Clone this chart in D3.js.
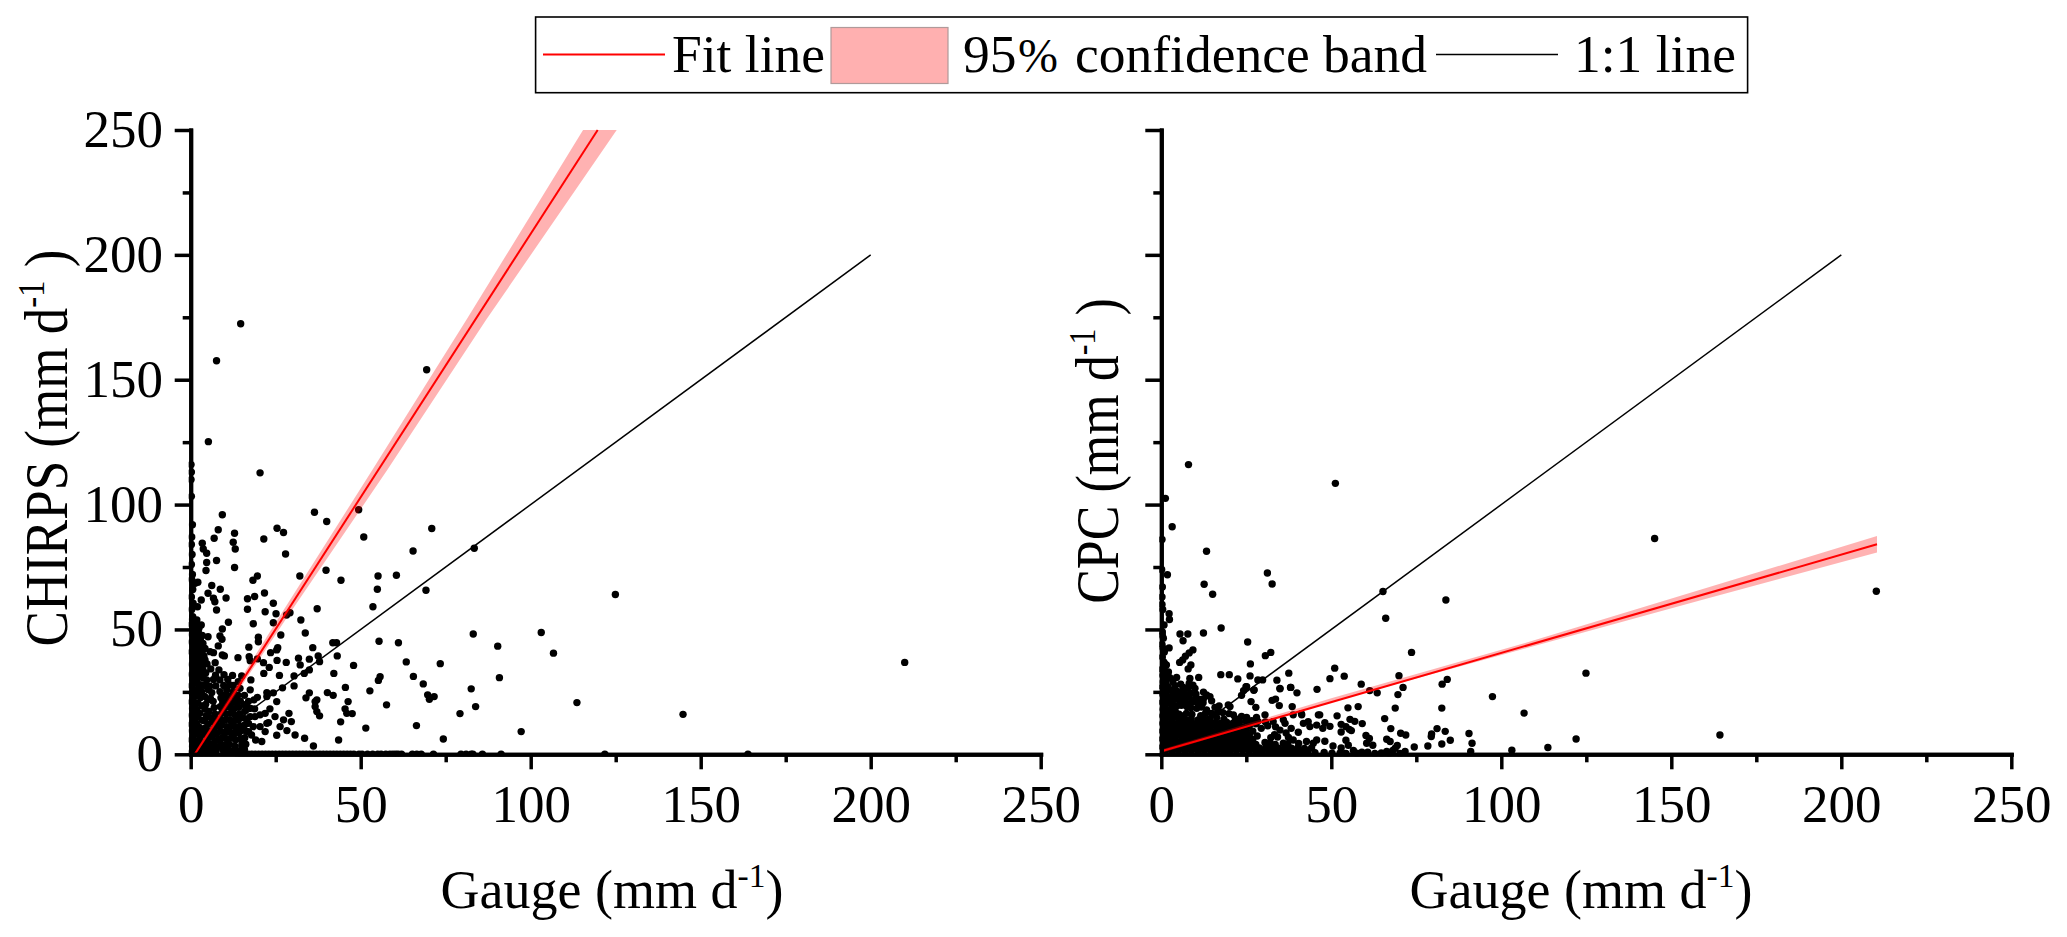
<!DOCTYPE html>
<html><head><meta charset="utf-8">
<script src="https://cdn.jsdelivr.net/npm/d3@7/dist/d3.min.js"></script>
<style>html,body{margin:0;background:#fff}svg{display:block}text{font-family:"Liberation Serif",serif;fill:#000}</style>
</head><body><svg id="c" width="2067" height="937"></svg>
<script>
const xTicks=[0,50,100,150,200,250], minorTicks=[25,75,125,175,225];
const oneToOne=[[0,0],[200,200]];
const chirpsFit=[[1.2,0],[119.7,250]];
const chirpsBandUpper=[[0.8,0],[26.5,56],[53.5,114],[81.1,174],[115.4,250]];
const chirpsBandLower=[[1.6,0],[28.9,56],[57.9,114],[86.9,174],[125.3,250]];
const cpcFit=[[0.5,1.4],[210.5,84.1]];
const cpcBandUpper=[[0.5,2.1],[50,22.4],[107,44.6],[160,66.5],[210.5,87.4]];
const cpcBandLower=[[0.5,0.7],[50,21],[107,42.4],[160,62.2],[210.5,80.8]];

const chirpsSparse=[[14.7,172.4],[7.6,157.6],[5.2,125.2],[69.4,154],[20.4,112.7],[9.3,95.9],[0.5,91.9],[8.1,89.9],[6.9,86.5],[12.9,88.5],[12.5,84.9],[13.1,82.2],[3.4,84.5],[3.7,82.2],[4.7,80.5],[4.7,76.8],[7.6,77.6],[4.5,73.6],[12.9,74.8],[25.4,90.5],[27.3,88.8],[21.5,86.2],[27.9,80.2],[36.4,96.9],[40,93.2],[49.4,97.9],[50.9,87],[65.4,81.4],[70.9,90.4],[83.4,82.5],[39.8,73.7],[44.2,69.7],[32.1,71.4],[55.1,71.4],[60.5,71.7],[54.9,66.1],[69.2,65.7],[53.6,59.1],[37.2,58.3],[19.6,71.4],[18.3,69.7],[21.7,64.6],[18.8,63.2],[16.7,62.3],[16.7,58.1],[21.9,57.1],[24.3,60.5],[25.1,56.3],[28.2,55.8],[29.2,56.7],[32.4,53.8],[18.4,52.3],[24.3,52.7],[33.7,48.6],[26.5,47.8],[19.9,46.9],[19.9,45.1],[17.1,42.9],[25.6,42.7],[25.3,41.8],[23.5,40.7],[35.9,42.7],[41.8,44.7],[42.9,44.7],[43.1,39.4],[55.4,45.3],[61.1,44.7],[83.1,48.2],[90.3,43.3],[37.5,39.4],[37.9,37.1],[34.9,38.1],[31.7,38.5],[32.2,35.8],[28.1,36.8],[25.4,37.6],[17.2,39.1],[17.5,37.5],[19.6,38.2],[21.4,36.7],[23.1,34.8],[21.5,32.4],[26.1,31.6],[30.4,31.4],[33.4,32.4],[34.9,33.8],[42.1,32.4],[47.9,35.6],[63.4,37],[73.4,36.3],[65.5,31.2],[55.7,31.1],[55.2,29.6],[68.4,28.2],[90.8,30.7],[82.5,26.2],[45.5,26.8],[52.7,25.4],[30.4,27.4],[27,26.6],[24.3,24.6],[22.4,24.7],[22.4,23.1],[19.6,22.8],[18.6,21.8],[17.5,25.8],[34.9,24.6],[33.9,22.6],[40.2,24.7],[41.9,23.6],[37.1,21.8],[36.6,21.1],[36.6,19.1],[37.1,17.1],[37.9,15.4],[46.3,21.1],[45.4,18.2],[45.9,16.4],[47.5,16.3],[44.1,13],[51.5,10.5],[43.5,5.7],[36.1,3.3],[33.5,6.4],[30.7,7.7],[28.3,9.5],[29.6,13.1],[28.9,16.4],[27.3,13.8],[26.3,11.1],[25.3,7.6],[24.8,15.1],[23.3,18.2],[22.9,12.7],[25.3,21.1],[57.6,19.8],[69.7,23.8],[71.6,23.1],[70.2,22],[66.4,11.5],[74.3,6.1],[79.2,16.3],[83.8,19.1],[97.2,9.1],[17.5,15.1],[18.9,15.1],[20.4,15.8],[21.9,16.4],[17,9.1],[17.9,7.7],[19.1,5.7],[20.9,5.1],[21.9,9.1],[20.4,11.1],[18.4,11.1],[17,12.4],[22.4,12.4],[103.1,48.8],[106.7,40.5],[113.6,20.7],[124.9,64],[144.8,16],[210,36.8]];
const chirpsDense=[[2.1,68.9],[6.2,67.6],[1.3,68.5],[8.7,66.1],[5.1,64.5],[6.7,62.5],[7.1,61.1],[10.4,62.6],[3.1,61.8],[2,59.1],[7.6,57.8],[0.6,55.1],[1.8,53.8],[3.1,51.8],[11.1,52.9],[9.3,50.2],[8.6,47.4],[9.2,46.1],[5.1,47.1],[2.3,48.5],[2.9,46.5],[1.3,45.8],[8.1,43.4],[5.7,41.1],[6.7,40.7],[9.3,39.8],[9.9,39.4],[13.9,38.7],[7.2,36.7],[4.2,37.8],[2.7,39.1],[3.7,36.4],[5.9,34.2],[8.3,33.8],[1.8,35.1],[12.3,31.6],[15,31.4],[14,29.1],[17.7,29.8],[14.5,26.4],[6.7,30],[4.7,29.8],[8.6,29.8],[2.3,31.1],[3.2,27.8],[12.5,25.1],[10.6,25.8],[8.6,25.1],[6.2,24.7],[3.2,25.1],[1.3,25.8],
[0.1,116],[0.2,113],[0.1,110],[0.2,103.3],[0.3,87],[0.2,84],[0.4,80],[0.2,76],[0.5,72],[0.3,70],[0.6,66],[0.2,63],[0.7,60.5],[0.3,58],[0.5,54],[0.2,52],[0.9,50],[0.4,48],[1.2,47],[0.3,45],[0.8,43.5],[1.4,42],[0.2,41],[0.6,39],[1.1,37.6],[0.4,36],[0.9,34],[1.5,33],[0.3,32],[0.7,30],[1.2,28.7],[0.2,27.5],[0.9,26],[0.4,24.5],[1.4,23.4],[0.7,22],[0.2,21],[1.1,19.6],[0.5,18.3],[0.9,17],[0.3,15.6],[1.3,14.4],[0.6,13],[0.2,12],[1,10.6],[0.4,9.4],[1.4,8.2],[0.7,7],[0.2,5.8],[1.1,4.5],[0.5,3.2],[0.9,1.9],[0.3,0.8],
[1.9,44],[2.6,42.6],[1.7,40.8],[3.4,41.4],[2.2,37],[1.6,31.7],[2.8,33.4],[1.9,29],[2.5,26.3],[1.7,24],[2.9,22.7],[2.1,20.6],[3.3,19.4],[1.8,18],[2.7,16.4],[2,14.8],[3.4,13.6],[1.7,12.2],[2.6,10.8],[3.2,9.6],[1.9,8.4],[2.8,6.9],[2.1,5.4],[3.3,4.2],[1.7,2.9],[2.6,1.7],[3.1,0.6],
[4.1,23.2],[5,21.8],[4.4,20],[5.8,22.4],[6.6,21.2],[4.2,18.1],[5.4,17.2],[6.9,18.7],[4.6,15.5],[5.9,14.7],[7.2,16.1],[4.1,13.4],[5.1,12.1],[6.5,12.9],[7.7,13.8],[4.4,10.6],[5.6,9.4],[6.9,10.3],[8,11.3],[4.2,8],[5.3,6.8],[6.4,7.6],[7.6,8.4],[4.6,5.2],[5.8,4.1],[7.1,5.3],[8.2,6.1],[4.1,2.7],[5.2,1.6],[6.5,2.4],[7.7,3],[4.7,0.7],[6.1,0.5],[7.4,0.9],
[8.9,22.6],[9.8,23.6],[11.2,23.4],[12.9,22.7],[13.9,23.7],[9.4,20.9],[10.7,21.4],[12,20.6],[13.4,20.7],[14.6,21.3],[8.7,19.1],[10,18.7],[11.4,18.9],[12.8,18.3],[14.1,18.8],[9.1,16.6],[10.4,16.2],[11.8,16.5],[13.1,15.7],[14.4,16.2],[8.8,14.1],[10.1,13.7],[11.5,13.9],[12.7,13.2],[14,13.6],[15.3,14.7],[9.2,11.8],[10.6,11.1],[11.9,11.5],[13.3,10.8],[14.6,11.3],[8.9,9.2],[10.2,8.7],[11.6,9],[12.9,8.3],[14.2,8.7],[15.2,9.6],[9.3,6.6],[10.5,6.2],[11.9,6.5],[13.2,5.8],[14.7,6.2],[8.9,4],[10.1,3.6],[11.4,3.9],[13,3.2],[15,3.4],[9.4,1.8],[10.8,1.4],[12.2,1.2],[14,1.3],[15.1,4.6]];
const chirpsFill=[[1.6,52],[2.4,50.4],[1.5,49],[3.4,47.6],[2.1,45],[3.6,44.4],[1.4,43.9],[2.8,41.9],[4.2,42.4],[3.9,39.4],[1.5,38.6],[3,37.9],[4.8,36.2],[2.4,35.5],[3.6,33.9],[1.7,33.4],[2.9,31.7],[4.4,32.6],[3.7,30.6],[1.6,30.3],[4.2,27.6],[5.6,27.3],[2.4,27.7],[5.1,25.9],[7.4,27.4],[9.7,27.6],[11.5,27.8],[7.3,31.7],[9.8,31.9],[10.9,30],[15.8,23.6],[16.4,19.7],[15.9,17.3],[16.3,14.2],[15.9,11.8],[16.4,9.2],[15.9,6.6],[16.2,4],[15.8,1.9],[17,21.2],[17.6,18.4],[18.8,18.2],[15.7,19.9],[12.5,27.6]];
const chirpsZero=[14,15,16,17,18,19,20,21,22,23,24,25,26,27,28,29,30,31,32,33,34,35,36,37,38,39,40,41,42,43,44,45,46,47,48,49.5,50.4,52,53.5,55,56,57.4,58.6,59.5,60.3,61,62,65.2,66.5,67.8,71.4,79.5,81,82.5,83,85.8,91.3,121.8,163.9];

const cpcSparse=[[8,116],[51.2,108.5],[1.2,102.5],[3.2,91.1],[13.3,81.3],[31.2,72.6],[32.6,68.2],[1.8,71.9],[12.6,68.1],[15.1,64.1],[65.2,65.2],[66,54.5],[83.7,61.8],[145.1,86.4],[210.3,65.3],[2.3,56.3],[2.4,54],[0.8,51.8],[17.6,50.6],[5.5,48.2],[7.8,48.2],[12.4,48.6],[6.4,45.5],[25.4,45],[2.3,42.6],[9.3,41.8],[8.2,40.6],[7.1,39.3],[6.3,37.8],[5.4,36.8],[32.2,40.8],[30.6,39.5],[26.2,36.2],[8.7,35.8],[7.9,34.2],[1.5,35.8],[1,33.5],[73.6,40.8],[17.5,31.9],[20,31.9],[22.5,30.2],[26.1,31.4],[28.4,29.8],[29.8,29.8],[37.5,32.5],[34,29.7],[51,34.5],[53.8,31.3],[49.6,30.3],[69.9,31.5],[84.1,30],[82.6,28.1],[124.9,32.5],[58.8,28.1],[45.8,26],[38.1,26.8],[39.9,24.6],[34.9,26.2],[24.9,27.1],[24.2,25.5],[23.6,23.6],[27.2,25.6],[26.4,21.1],[27.8,18.8],[33.6,22.1],[32.6,21.6],[34.7,19.5],[61.3,25.5],[63.5,24.6],[71.1,26.8],[69.6,23.9],[97.4,23.1],[106.7,16.5],[82.5,18.5],[68.8,18.5],[57.9,19.1],[54.9,18.6],[65.7,14.3],[51.7,15.4],[46.6,15.8],[41.2,16.3],[55.5,14],[56.9,13.2],[59.1,12.3],[52.9,12],[48.1,12.7],[49.6,11.2],[47.5,10.4],[54.3,11.1],[55.3,10],[55.9,9.5],[52.9,8.9],[67.5,10.3],[81.1,10.3],[83.5,9.2],[79.5,8.1],[79.4,7.1],[90.5,8.3],[91.4,4.4],[85,5.6],[82.5,4.1],[78.4,3.3],[74.4,2.9],[70.4,8.4],[71.9,7.7],[60.2,7.5],[61.2,6.3],[60.4,4.4],[62.2,3.6],[66.3,6],[67.3,5.1],[69.4,3.5],[68.8,2.4],[48.1,5.2],[54.3,5.6],[50.5,3.3],[55,3.6],[52.9,2.5],[56.5,1.5],[59,0.8],[60.7,0.8],[66.3,1.1],[71.7,1.1],[68.1,1.5],[91,1.1],[103.1,1.6],[113.7,2.7],[122,6.1],[47.9,0.7],[164.3,7.7]];
const cpcDense=[[0.2,86],[0.1,74],[0.3,67],[0.2,63],[0.2,60],[0.4,58],[0.3,49],[0.6,46.5],[0.2,44],[0.9,41],[0.3,39],[0.7,37],[1.2,31],[0.2,34],[0.5,29],[1.3,28.5],[0.3,27],[1,25.6],[2.5,30.7],[4.5,30.8],[11,30.8],[8.4,30.4],[8.2,28.4],[4,27.5],[7.9,26.4],[9.9,26.4],[4.3,23.8],[7,22.4],[1.6,26.4],[3,23.1],[34.9,26.4],[38,26.8],[25.1,27.1],[13.3,23.8],[14.3,23.1],[14.8,21.4],[17,19.4],[19.7,19.8],[20.2,19.1],[11.4,22],[9.4,21.1],[7.5,19.1],[13.3,17.8],[10.4,18.4],[14.8,16.4],[16.8,17.1],[21.2,15.8],[25.1,14.8],[28,14.8],[30.5,15.8],[32.9,13.1],[35.9,13.8],[38.8,15.8],[41.3,15.8],[43.2,13.1],[46.2,15.8],[45.7,11.7],[43.7,11.1],[41.8,12.4],[40.3,8.8],[34.9,9.7],[36.4,12.4],[38.8,5.7],[42.7,5.1],[44.7,4.4],[45.7,5.7],[35.9,4.4],[30.5,4.7],[31.9,4.4],[38.5,19.1],[27.3,25.8],
[0.4,24],[0.9,22.7],[1.6,21.6],[0.3,20.8],[2.4,20.4],[1.1,19.2],[3.3,18.8],[0.5,18],[2,17.7],[4.1,17.3],[1.2,16.6],[3,16.4],[5.2,16.1],[0.4,15.4],[2.2,15],[4.1,14.9],[6.2,15.4],[7.4,16.4],[9,16],[11.6,15.5],[1.1,13.8],[3.1,13.6],[5.2,13.6],[7.1,13.9],[8.8,14.2],[10.8,13.8],[12.6,14.2],[14.3,14.3],[16.3,14.7],[18.4,14.1],[0.4,12.4],[2.2,12.2],[4.2,12.1],[6.2,12.3],[8,12.5],[9.9,12.3],[11.8,12.7],[13.6,12.3],[15.4,12.6],[17.3,12.4],[19.2,12.9],[21.1,12.5],[23,13],[1.2,10.8],[3.1,10.7],[5.1,10.6],[7,10.9],[8.9,10.7],[10.8,11],[12.7,10.8],[14.5,11],[16.4,10.8],[18.3,11.1],[20.2,10.9],[22.1,11.2],[24,11],[25.9,11.4],[27.8,12.2],[0.3,9.3],[2.2,9.2],[4.1,9.1],[6,9.3],[7.9,9],[9.8,9.3],[11.7,9.1],[13.6,9.4],[15.5,9.1],[17.4,9.4],[19.3,9.2],[21.2,9.5],[23.1,9.2],[25,9.5],[26.9,9.3],[29.4,10.4],[31.3,11.4],[33.6,11],[1.2,7.7],[3.1,7.6],[5,7.8],[6.9,7.5],[8.8,7.8],[10.7,7.6],[12.6,7.9],[14.5,7.6],[16.4,7.9],[18.3,7.6],[20.2,7.9],[22.1,7.7],[24,8],[25.9,7.7],[28.2,7.3],[33.3,7.8],[36.7,8.5],[38.2,10.4],[0.3,6.1],[2.2,6],[4.1,6.2],[6,5.9],[7.9,6.2],[9.8,6],[11.7,6.3],[13.6,6],[15.5,6.3],[17.4,6],[19.3,6.3],[21.2,6.1],[23.1,6.4],[25,6.1],[26.9,5.9],[32.2,6.6],[34.2,6.9],[37.4,6.7],[1.2,4.5],[3.1,4.4],[5,4.6],[6.9,4.3],[8.8,4.6],[10.7,4.4],[12.6,4.7],[14.5,4.4],[16.4,4.7],[18.3,4.4],[20.2,4.7],[22.1,4.5],[24,4.8],[25.9,4.4],[27.8,3.9],[33.5,3.9],[37.2,4],[40.4,4.3],[0.3,2.9],[2.2,2.8],[4.1,3],[6,2.7],[7.9,3],[9.8,2.8],[11.7,3.1],[13.6,2.8],[15.5,3.1],[17.4,2.8],[19.3,3.1],[21.2,2.9],[23.1,3.2],[25,2.9],[26.9,2.6],[28.8,2.5],[30.7,2.6],[32.6,2.7],[34.5,2.4],[36.4,2.7],[38.3,2.4],[40.2,2.6],[42.1,2.3],[44.2,2.5],[1.2,1.3],[3.1,1.2],[5,1.4],[6.9,1.1],[8.8,1.4],[10.7,1.2],[12.6,1.5],[14.5,1.2],[16.4,1.5],[18.3,1.2],[20.2,1.5],[22.1,1.3],[24,1.6],[25.9,1.3],[27.8,1],[29.7,0.9],[31.6,1.1],[33.5,0.8],[35.4,1.1],[37.3,0.8],[39.2,1],[41.1,0.7],[43,0.9],[45.2,0.6],[50.2,0.4],[52.6,0.5],[54.3,0.3],[57.5,0.4],[62.8,0.3],[64.7,0.5],[67.1,0.4],[70.2,0.3]];
const cpcFill=[[0.8,27.5],[1.9,27.1],[2.8,25.7],[4.6,25.3],[6.3,25.6],[8.6,24.4],[10.2,24.1],[12.4,24.9],[1.4,24.3],[3.4,24.6],[5.3,23.6],[6.9,24.2],[8.1,22.8],[10.1,22.6],[12.4,22.2],[2,22.3],[3.8,22],[5.4,21.4],[6.9,20.5],[8.6,20.4],[10.9,20.2],[12.3,20.6],[3.2,20.7],[4.7,19.5],[5.9,19.6],[8.7,18.6],[11.8,18.9],[15.8,18.8],[13,16.4],[15.9,15.9],[18.1,16.7],[19.9,16.3],[21.8,14.3],[23.6,15.2],[24.9,13.3],[26.6,13.5],[28.4,13.2],[30.6,13],[2.1,33],[0.4,31.6],[0.9,36.5],[0.5,42.5],[0.3,47.7],[1.4,29.8],[1.2,26.9],[3.4,29.1],[5.7,28.1],[6.5,26.8],[9.3,27.7]];

const svg=d3.select("#c");
svg.append("defs");
const x0=190.7,y0=754.3,W=850,H=624.3;
function panel(id,left,ptsList,fit,up,low,showY){
  const x=d3.scaleLinear([0,250],[left,left+W]);
  const y=d3.scaleLinear([0,250],[y0,y0-H]);
  const line=d3.line().x(d=>x(d[0])).y(d=>y(d[1]));
  const cid="clip"+id;
  svg.select("defs").append("clipPath").attr("id",cid).append("rect")
    .attr("x",left-2).attr("y",y0-H-1).attr("width",W+2).attr("height",H+3);
  const g=svg.append("g");
  g.append("path").attr("d",line(oneToOne)).attr("fill","none").attr("stroke","#000").attr("stroke-width",1.5);
  g.append("g").attr("clip-path",`url(#${cid})`).selectAll("circle").data(ptsList).join("circle")
    .attr("cx",d=>x(d[0])).attr("cy",d=>y(d[1])).attr("r",3.7).attr("fill","#000");
  const poly=up.map(d=>[x(d[0]),y(d[1])]).concat(low.slice().reverse().map(d=>[x(d[0]),y(d[1])]));
  g.append("polygon").attr("points",poly.join(" ")).attr("fill","#ff0000").attr("fill-opacity",0.3);
  g.append("path").attr("d",line(fit)).attr("fill","none").attr("stroke","#ff0000").attr("stroke-width",2);
  const ax=g.append("g").attr("transform",`translate(0,${y0})`);
  ax.call(d3.axisBottom(x).tickValues(xTicks).tickSize(15).tickSizeOuter(0).tickFormat(d3.format("d")));
  ax.selectAll("text").attr("y",67.7).attr("dy",0).attr("font-size",53).attr("font-family","Liberation Serif");
  const axm=g.append("g").attr("transform",`translate(0,${y0})`);
  axm.call(d3.axisBottom(x).tickValues(minorTicks).tickSize(8).tickSizeOuter(0).tickFormat(""));
  const ay=g.append("g").attr("transform",`translate(${left},0)`);
  ay.call(d3.axisLeft(y).tickValues(xTicks).tickSize(16).tickSizeOuter(0).tickFormat(showY?d3.format("d"):""));
  ay.selectAll("text").attr("x",-27.7).attr("dy",16.5).attr("font-size",53).attr("font-family","Liberation Serif");
  const aym=g.append("g").attr("transform",`translate(${left},0)`);
  aym.call(d3.axisLeft(y).tickValues(minorTicks).tickSize(8).tickSizeOuter(0).tickFormat(""));
  g.selectAll(".domain").attr("stroke","#000").attr("stroke-width",4).attr("stroke-linecap","square");
  g.selectAll(".tick line").attr("stroke","#000").attr("stroke-width",3.5);
  g.selectAll(".tick text").attr("fill","#000");
}
panel("a",x0,chirpsSparse.concat(chirpsDense,chirpsFill,chirpsZero.map(v=>[v,0])),chirpsFit,chirpsBandUpper,chirpsBandLower,true);
panel("b",1161.3,cpcSparse.concat(cpcDense,cpcFill),cpcFit,cpcBandUpper,cpcBandLower,false);

function unitTitle(sel,txt,fs,spaced){
  sel.attr("font-size",fs).attr("text-anchor","middle");
  sel.append("tspan").text(txt+" (mm d");
  sel.append("tspan").attr("dy",-fs*0.38).attr("font-size",fs*0.62).text("-1");
  sel.append("tspan").attr("dy",fs*0.38).text(spaced?" )":")");
}
unitTitle(svg.append("text").attr("x",612).attr("y",908),"Gauge",54,false);
unitTitle(svg.append("text").attr("x",1581).attr("y",908),"Gauge",54,false);
unitTitle(svg.append("text").attr("transform","translate(67,448) rotate(-90) scale(1,1.16)"),"CHIRPS",53,true);
unitTitle(svg.append("text").attr("transform","translate(1118,451) rotate(-90) scale(1,1.18)"),"CPC",52,true);

const lg=svg.append("g");
lg.append("rect").attr("x",535.6).attr("y",17).attr("width",1212).attr("height",75.7).attr("fill","#fff").attr("stroke","#000").attr("stroke-width",1.6);
lg.append("line").attr("x1",543).attr("x2",665).attr("y1",54.5).attr("y2",54.5).attr("stroke","#ff0000").attr("stroke-width",2);
lg.append("rect").attr("x",831).attr("y",27.5).attr("width",117).attr("height",56).attr("fill","#ffb0b0").attr("stroke","#b09a9a").attr("stroke-width",1.2);
lg.append("line").attr("x1",1436).attr("x2",1558).attr("y1",54.5).attr("y2",54.5).attr("stroke","#000").attr("stroke-width",1.5);
[["Fit line",672],["95",963],["%",1018],["confidence band",1075],["1:1 line",1574]].forEach(d=>{
  lg.append("text").attr("x",d[1]).attr("y",72).attr("font-size",53.5).attr("font-size",d[0]==="%"?48:53.5).text(d[0]);
});
</script></body></html>
